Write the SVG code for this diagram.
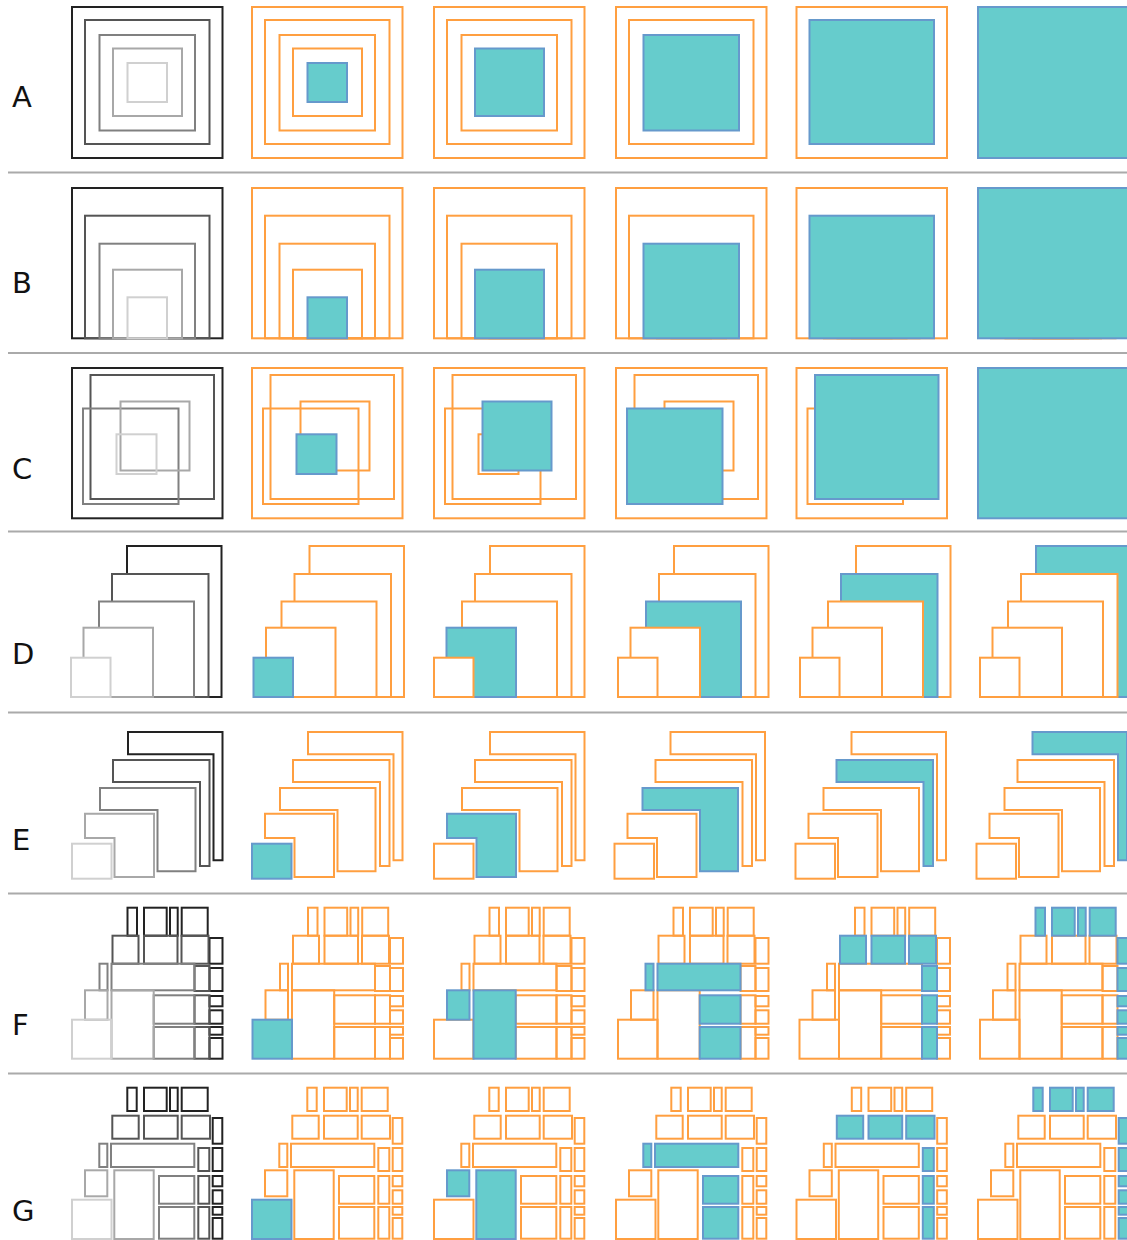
<svg xmlns="http://www.w3.org/2000/svg" width="1127" height="1240" viewBox="0 0 1127 1240">
<style>
.lbl{font-family:"DejaVu Sans",sans-serif;font-size:29px;fill:#111}
.sep{stroke:#aaaaaa;stroke-width:2}
.k1,.k2,.k3,.k4,.k5,.o,.t{stroke-width:2}
.k1{fill:none;stroke:#d0d0d0}
.k2{fill:none;stroke:#a8a8a8}
.k3{fill:none;stroke:#808080}
.k4{fill:none;stroke:#555555}
.k5{fill:none;stroke:#222222}
.o{fill:none;stroke:#ff9f40}
.t{fill:#66cccc;stroke:#6699cc}
.w{fill:#ffffff}
</style>
<defs>
<rect id="A5" x="0" y="7" width="150.5" height="151"/>
<rect id="A4" x="13" y="20" width="124.5" height="124"/>
<rect id="A3" x="27.5" y="35" width="95.5" height="95.5"/>
<rect id="A2" x="41" y="48.5" width="69" height="67.5"/>
<rect id="A1" x="55.5" y="63" width="39.5" height="39"/>

<rect id="B5" x="0" y="188" width="150.5" height="150.3"/>
<rect id="B4" x="13" y="215.7" width="124.5" height="122.6"/>
<rect id="B3" x="27.5" y="243.7" width="95.5" height="94.6"/>
<rect id="B2" x="41" y="269.7" width="69" height="68.6"/>
<rect id="B1" x="55.5" y="297.3" width="39.5" height="41"/>

<rect id="C5" x="0" y="368" width="150.5" height="150.3"/>
<rect id="C4" x="18.5" y="375" width="123.5" height="124"/>
<rect id="C3" x="11" y="408.5" width="95.5" height="95.5"/>
<rect id="C2" x="48.5" y="401.5" width="69" height="69"/>
<rect id="C1" x="44.5" y="434.3" width="40" height="39.7"/>

<rect id="D5" x="56" y="546" width="94.5" height="151"/>
<rect id="D4" x="41" y="574" width="96.5" height="123"/>
<rect id="D3" x="28" y="601.5" width="95" height="95.5"/>
<rect id="D2" x="12.5" y="627.7" width="69.5" height="69.3"/>
<rect id="D1" x="0" y="657.7" width="39.5" height="39.3"/>

<path id="E5" d="M56,732H150.5V860.3H141.5V754.3H56Z"/>
<path id="E4" d="M41,760H137.5V866H128V782H41Z"/>
<path id="E3" d="M28,788H123.5V871.3H85.5V810H28Z"/>
<path id="E2" d="M13,813.7H82V877H42.5V838H13Z"/>
<rect id="E1" x="0" y="843.7" width="39.5" height="35"/>

<g id="F5">
<rect x="55.5" y="907.7" width="9.5" height="28"/>
<rect x="72" y="907.7" width="22.7" height="28"/>
<rect x="98" y="907.7" width="7.7" height="28"/>
<rect x="109.7" y="907.7" width="26" height="28"/>
<rect x="137.5" y="938" width="13" height="25.7"/>
<rect x="137.5" y="968" width="13" height="23"/>
<rect x="137.5" y="996" width="13" height="10.3"/>
<rect x="137.5" y="1010.3" width="13" height="13.4"/>
<rect x="137.5" y="1027" width="13" height="7.7"/>
<rect x="137.5" y="1038" width="13" height="20.7"/>
</g>
<g id="F4">
<rect x="40.5" y="935.7" width="26" height="28"/>
<rect x="72" y="935.7" width="33.5" height="28"/>
<rect x="109.5" y="935.7" width="27" height="28"/>
<rect x="122.5" y="966" width="15" height="25"/>
<rect x="122.5" y="995.3" width="15" height="28.4"/>
<rect x="122.5" y="1027" width="15" height="31.7"/>
</g>
<g id="F3">
<rect x="27.5" y="963.7" width="8" height="26.6"/>
<rect x="39.5" y="963.7" width="83" height="26.6"/>
<rect x="81.7" y="995.3" width="40.8" height="28.4"/>
<rect x="81.7" y="1027" width="40.8" height="31.7"/>
</g>
<g id="F2">
<rect x="13" y="990.3" width="22.5" height="29.4"/>
<rect x="39.5" y="990.3" width="42.2" height="68.4"/>
</g>
<rect id="F1" x="0" y="1019.7" width="39.5" height="39"/>

<g id="G5">
<rect x="55.3" y="1087.7" width="9.4" height="23.3"/>
<rect x="72" y="1087.7" width="22.7" height="23.3"/>
<rect x="98" y="1087.7" width="7.7" height="23.3"/>
<rect x="109.7" y="1087.7" width="26" height="23.3"/>
<rect x="140.7" y="1118" width="9.6" height="25.7"/>
<rect x="140.7" y="1148" width="9.6" height="23"/>
<rect x="140.7" y="1176" width="9.6" height="10.3"/>
<rect x="140.7" y="1190.3" width="9.6" height="13.4"/>
<rect x="140.7" y="1207" width="9.6" height="7.7"/>
<rect x="140.7" y="1218" width="9.6" height="20.7"/>
</g>
<g id="G4">
<rect x="40.3" y="1115.7" width="26.4" height="23"/>
<rect x="72" y="1115.7" width="33.7" height="23"/>
<rect x="109.7" y="1115.7" width="28.3" height="23"/>
<rect x="126.3" y="1148" width="11" height="23"/>
<rect x="126.3" y="1176" width="11" height="27.7"/>
<rect x="126.3" y="1207" width="11" height="31.7"/>
</g>
<g id="G3">
<rect x="27.3" y="1143.7" width="8" height="23.3"/>
<rect x="39" y="1143.7" width="83.3" height="23.3"/>
<rect x="87" y="1176" width="35.3" height="27.7"/>
<rect x="87" y="1207" width="35.3" height="31.7"/>
</g>
<g id="G2">
<rect x="13" y="1170.3" width="22.3" height="26"/>
<rect x="42.3" y="1170.3" width="39.4" height="68.7"/>
</g>
<rect id="G1" x="0" y="1199.7" width="39.5" height="39.3"/>
</defs>

<g id="separators">
<line class="sep" x1="8" y1="172.5" x2="1127" y2="172.5"/>
<line class="sep" x1="8" y1="353" x2="1127" y2="353"/>
<line class="sep" x1="8" y1="531.5" x2="1127" y2="531.5"/>
<line class="sep" x1="8" y1="712.5" x2="1127" y2="712.5"/>
<line class="sep" x1="8" y1="893.5" x2="1127" y2="893.5"/>
<line class="sep" x1="8" y1="1073.5" x2="1127" y2="1073.5"/>
</g>

<g id="labels">
<text class="lbl" x="12" y="107">A</text>
<text class="lbl" x="12" y="292.5">B</text>
<text class="lbl" x="12" y="478.5">C</text>
<text class="lbl" x="12" y="664">D</text>
<text class="lbl" x="12" y="849.5">E</text>
<text class="lbl" x="12" y="1035">F</text>
<text class="lbl" x="12" y="1220.5">G</text>
</g>

<!-- Row A -->
<g id="A-0" transform="translate(72,0)"><use href="#A5" class="k5"/><use href="#A4" class="k4"/><use href="#A3" class="k3"/><use href="#A2" class="k2"/><use href="#A1" class="k1"/></g>
<g id="A-1" transform="translate(252,0)"><use href="#A5" class="o"/><use href="#A4" class="o"/><use href="#A3" class="o"/><use href="#A2" class="o"/><use href="#A1" class="t"/></g>
<g id="A-2" transform="translate(434,0)"><use href="#A5" class="o"/><use href="#A4" class="o"/><use href="#A3" class="o"/><use href="#A1" class="o"/><use href="#A2" class="t"/></g>
<g id="A-3" transform="translate(616,0)"><use href="#A5" class="o"/><use href="#A4" class="o"/><use href="#A2" class="o"/><use href="#A1" class="o"/><use href="#A3" class="t"/></g>
<g id="A-4" transform="translate(796.5,0)"><use href="#A5" class="o"/><use href="#A3" class="o"/><use href="#A2" class="o"/><use href="#A1" class="o"/><use href="#A4" class="t"/></g>
<g id="A-5" transform="translate(978,0)"><use href="#A4" class="o"/><use href="#A3" class="o"/><use href="#A2" class="o"/><use href="#A1" class="o"/><use href="#A5" class="t"/></g>

<!-- Row B -->
<g id="B-0" transform="translate(72,0)"><use href="#B5" class="k5"/><use href="#B4" class="k4"/><use href="#B3" class="k3"/><use href="#B2" class="k2"/><use href="#B1" class="k1"/></g>
<g id="B-1" transform="translate(252,0)"><use href="#B5" class="o"/><use href="#B4" class="o"/><use href="#B3" class="o"/><use href="#B2" class="o"/><use href="#B1" class="t"/></g>
<g id="B-2" transform="translate(434,0)"><use href="#B5" class="o"/><use href="#B4" class="o"/><use href="#B3" class="o"/><use href="#B1" class="o"/><use href="#B2" class="t"/></g>
<g id="B-3" transform="translate(616,0)"><use href="#B5" class="o"/><use href="#B4" class="o"/><use href="#B2" class="o"/><use href="#B1" class="o"/><use href="#B3" class="t"/></g>
<g id="B-4" transform="translate(796.5,0)"><use href="#B5" class="o"/><use href="#B3" class="o"/><use href="#B2" class="o"/><use href="#B1" class="o"/><use href="#B4" class="t"/></g>
<g id="B-5" transform="translate(978,0)"><use href="#B4" class="o"/><use href="#B3" class="o"/><use href="#B2" class="o"/><use href="#B1" class="o"/><use href="#B5" class="t"/></g>

<!-- Row C -->
<g id="C-0" transform="translate(72,0)"><use href="#C5" class="k5"/><use href="#C4" class="k4"/><use href="#C3" class="k3"/><use href="#C2" class="k2"/><use href="#C1" class="k1"/></g>
<g id="C-1" transform="translate(252,0)"><use href="#C5" class="o"/><use href="#C4" class="o"/><use href="#C3" class="o"/><use href="#C2" class="o"/><use href="#C1" class="t"/></g>
<g id="C-2" transform="translate(434,0)"><use href="#C5" class="o"/><use href="#C4" class="o"/><use href="#C3" class="o"/><use href="#C1" class="o"/><use href="#C2" class="t"/></g>
<g id="C-3" transform="translate(616,0)"><use href="#C5" class="o"/><use href="#C4" class="o"/><use href="#C2" class="o"/><use href="#C1" class="o"/><use href="#C3" class="t"/></g>
<g id="C-4" transform="translate(796.5,0)"><use href="#C5" class="o"/><use href="#C3" class="o"/><use href="#C2" class="o"/><use href="#C1" class="o"/><use href="#C4" class="t"/></g>
<g id="C-5" transform="translate(978,0)"><use href="#C4" class="o"/><use href="#C3" class="o"/><use href="#C2" class="o"/><use href="#C1" class="o"/><use href="#C5" class="t"/></g>

<!-- Row D (stacked, white-filled) -->
<g id="D-0" transform="translate(71,0)"><use href="#D5" class="k5 w"/><use href="#D4" class="k4 w"/><use href="#D3" class="k3 w"/><use href="#D2" class="k2 w"/><use href="#D1" class="k1 w"/></g>
<g id="D-1" transform="translate(253.5,0)"><use href="#D5" class="o w"/><use href="#D4" class="o w"/><use href="#D3" class="o w"/><use href="#D2" class="o w"/><use href="#D1" class="t"/></g>
<g id="D-2" transform="translate(434,0)"><use href="#D5" class="o w"/><use href="#D4" class="o w"/><use href="#D3" class="o w"/><use href="#D2" class="t"/><use href="#D1" class="o w"/></g>
<g id="D-3" transform="translate(618,0)"><use href="#D5" class="o w"/><use href="#D4" class="o w"/><use href="#D3" class="t"/><use href="#D2" class="o w"/><use href="#D1" class="o w"/></g>
<g id="D-4" transform="translate(800,0)"><use href="#D5" class="o w"/><use href="#D4" class="t"/><use href="#D3" class="o w"/><use href="#D2" class="o w"/><use href="#D1" class="o w"/></g>
<g id="D-5" transform="translate(980,0)"><use href="#D5" class="t"/><use href="#D4" class="o w"/><use href="#D3" class="o w"/><use href="#D2" class="o w"/><use href="#D1" class="o w"/></g>

<!-- Row E -->
<g id="E-0" transform="translate(72,0)"><use href="#E5" class="k5"/><use href="#E4" class="k4"/><use href="#E3" class="k3"/><use href="#E2" class="k2"/><use href="#E1" class="k1"/></g>
<g id="E-1" transform="translate(252,0)"><use href="#E5" class="o"/><use href="#E4" class="o"/><use href="#E3" class="o"/><use href="#E2" class="o"/><use href="#E1" class="t"/></g>
<g id="E-2" transform="translate(434,0)"><use href="#E5" class="o"/><use href="#E4" class="o"/><use href="#E3" class="o"/><use href="#E1" class="o"/><use href="#E2" class="t"/></g>
<g id="E-3" transform="translate(614.5,0)"><use href="#E5" class="o"/><use href="#E4" class="o"/><use href="#E2" class="o"/><use href="#E1" class="o"/><use href="#E3" class="t"/></g>
<g id="E-4" transform="translate(795.5,0)"><use href="#E5" class="o"/><use href="#E3" class="o"/><use href="#E2" class="o"/><use href="#E1" class="o"/><use href="#E4" class="t"/></g>
<g id="E-5" transform="translate(976.5,0)"><use href="#E4" class="o"/><use href="#E3" class="o"/><use href="#E2" class="o"/><use href="#E1" class="o"/><use href="#E5" class="t"/></g>

<!-- Row F -->
<g id="F-0" transform="translate(72,0)"><use href="#F5" class="k5"/><use href="#F4" class="k4"/><use href="#F3" class="k3"/><use href="#F2" class="k2"/><use href="#F1" class="k1"/></g>
<g id="F-1" transform="translate(252.5,0)"><use href="#F5" class="o"/><use href="#F4" class="o"/><use href="#F3" class="o"/><use href="#F2" class="o"/><use href="#F1" class="t"/></g>
<g id="F-2" transform="translate(434,0)"><use href="#F5" class="o"/><use href="#F4" class="o"/><use href="#F3" class="o"/><use href="#F1" class="o"/><use href="#F2" class="t"/></g>
<g id="F-3" transform="translate(618,0)"><use href="#F5" class="o"/><use href="#F4" class="o"/><use href="#F2" class="o"/><use href="#F1" class="o"/><use href="#F3" class="t"/></g>
<g id="F-4" transform="translate(799.5,0)"><use href="#F5" class="o"/><use href="#F3" class="o"/><use href="#F2" class="o"/><use href="#F1" class="o"/><use href="#F4" class="t"/></g>
<g id="F-5" transform="translate(980,0)"><use href="#F4" class="o"/><use href="#F3" class="o"/><use href="#F2" class="o"/><use href="#F1" class="o"/><use href="#F5" class="t"/></g>

<!-- Row G -->
<g id="G-0" transform="translate(72,0)"><use href="#G5" class="k5"/><use href="#G4" class="k4"/><use href="#G3" class="k3"/><use href="#G2" class="k2"/><use href="#G1" class="k1"/></g>
<g id="G-1" transform="translate(252,0)"><use href="#G5" class="o"/><use href="#G4" class="o"/><use href="#G3" class="o"/><use href="#G2" class="o"/><use href="#G1" class="t"/></g>
<g id="G-2" transform="translate(434,0)"><use href="#G5" class="o"/><use href="#G4" class="o"/><use href="#G3" class="o"/><use href="#G1" class="o"/><use href="#G2" class="t"/></g>
<g id="G-3" transform="translate(616,0)"><use href="#G5" class="o"/><use href="#G4" class="o"/><use href="#G2" class="o"/><use href="#G1" class="o"/><use href="#G3" class="t"/></g>
<g id="G-4" transform="translate(796.5,0)"><use href="#G5" class="o"/><use href="#G3" class="o"/><use href="#G2" class="o"/><use href="#G1" class="o"/><use href="#G4" class="t"/></g>
<g id="G-5" transform="translate(978,0)"><use href="#G4" class="o"/><use href="#G3" class="o"/><use href="#G2" class="o"/><use href="#G1" class="o"/><use href="#G5" class="t"/></g>
</svg>
